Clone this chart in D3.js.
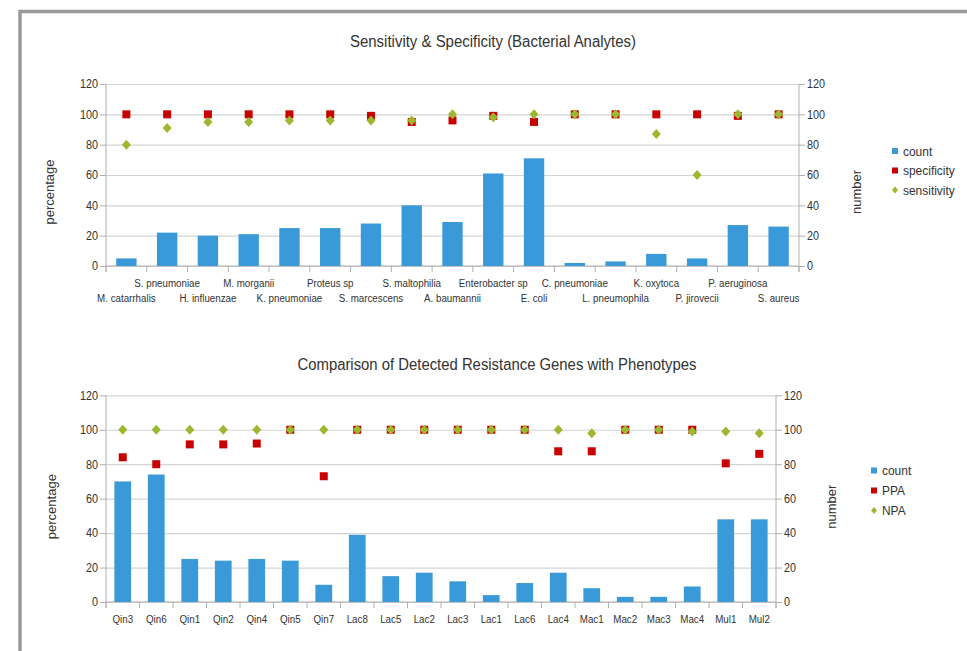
<!DOCTYPE html>
<html>
<head>
<meta charset="utf-8">
<script src="https://cdn.jsdelivr.net/npm/d3@7"></script>
<style>
  html, body { margin: 0; padding: 0; background: #fff; }
  svg { display: block; }
  text { font-family: 'Liberation Sans', Arial, sans-serif; fill: #333; }
</style>
</head>
<body>
<svg id="chart" width="967" height="651"></svg>
<script>
// ---------- Data ----------
const bactCategories = ["M. catarrhalis", "S. pneumoniae", "H. influenzae", "M. morganii", "K. pneumoniae",
  "Proteus sp", "S. marcescens", "S. maltophilia", "A. baumannii", "Enterobacter sp", "E. coli",
  "C. pneumoniae", "L. pneumophila", "K. oxytoca", "P. jirovecii", "P. aeruginosa", "S. aureus"];
const bactCount = [5, 22, 20, 21, 25, 25, 28, 40, 29, 61, 71, 2, 3, 8, 5, 27, 26];
const bactSpecificity = [100, 100, 100, 100, 100, 100, 99, 95, 96, 99, 95, 100, 100, 100, 100, 99, 100];
const bactSensitivity = [80, 91, 95, 95, 96, 96, 96, 96, 100, 98, 100, 100, 100, 87, 60, 100, 100];

const geneCategories = ["Qin3", "Qin6", "Qin1", "Qin2", "Qin4", "Qin5", "Qin7", "Lac8", "Lac5", "Lac2",
  "Lac3", "Lac1", "Lac6", "Lac4", "Mac1", "Mac2", "Mac3", "Mac4", "Mul1", "Mul2"];
const geneCount = [70, 74, 25, 24, 25, 24, 10, 39, 15, 17, 12, 4, 11, 17, 8, 3, 3, 9, 48, 48];
const genePPA = [84, 80, 91.5, 91.5, 92, 100, 73, 100, 100, 100, 100, 100, 100, 87.5, 87.5, 100, 100, 100, 80.5, 86];
const geneNPA = [100, 100, 100, 100, 100, 100, 100, 100, 100, 100, 100, 100, 100, 100, 98, 100, 100, 99, 99, 98];

const yTickValues = [0, 20, 40, 60, 80, 100, 120];

// ---------- Styles ----------
const BAR = "#3a9ad9";
const RED = "#c80000";
const GREEN = "#9bb82e";
const GRID = "#d4d4d4";
const AXIS = "#b0b0b0";

const svg = d3.select("#chart");

// frame
svg.append("path")
  .attr("d", "M20,700 L20,11.5 L1000,11.5")
  .attr("fill", "none").attr("stroke", "#999").attr("stroke-width", 3.5);

function drawChart(cfg) {
  const g = svg.append("g");
  const x = d3.scaleBand().domain(cfg.categories).range([cfg.left, cfg.right]).padding(0);
  const y = d3.scaleLinear().domain([0, 120]).range([cfg.bottom, cfg.top]);
  const yR = d3.scaleLinear().domain([0, 120]).range([cfg.bottom, cfg.top]);

  // title
  g.append("text").attr("x", cfg.titleX).attr("y", cfg.titleY)
    .attr("text-anchor", "middle").attr("font-size", 16)
    .attr("textLength", cfg.titleLen).attr("lengthAdjust", "spacingAndGlyphs")
    .text(cfg.title);

  // gridlines
  const grid = g.append("g").attr("transform", `translate(${cfg.left},0)`)
    .call(d3.axisLeft(y).tickValues(yTickValues).tickSize(-(cfg.right - cfg.left)).tickFormat(""));
  grid.select(".domain").remove();
  grid.selectAll("line").attr("stroke", GRID).attr("stroke-width", 1.2);

  // left axis
  const la = g.append("g").attr("transform", `translate(${cfg.left},0)`)
    .call(d3.axisLeft(y).tickValues(yTickValues).tickSize(6).tickSizeOuter(0).tickPadding(3));
  la.select(".domain").attr("stroke", AXIS).attr("d", `M0,${cfg.top}V${cfg.bottom + 6}`);
  la.selectAll("line").attr("stroke", AXIS);
  la.selectAll("text").attr("font-size", 12).attr("fill", "#333")
    .attr("font-family", "'Liberation Sans', Arial, sans-serif")
    .attr("transform", "scale(0.9,1)");

  // right axis
  const ra = g.append("g").attr("transform", `translate(${cfg.right},0)`)
    .call(d3.axisRight(yR).tickValues(yTickValues).tickSize(6).tickSizeOuter(0).tickPadding(3));
  ra.select(".domain").attr("stroke", AXIS).attr("d", `M0,${cfg.top}V${cfg.bottom + 6}`);
  ra.selectAll("line").attr("stroke", AXIS);
  ra.selectAll("text").attr("font-size", 12).attr("fill", "#333")
    .attr("font-family", "'Liberation Sans', Arial, sans-serif")
    .attr("transform", "scale(0.9,1)");

  // x axis baseline and boundary ticks
  g.append("line").attr("x1", cfg.left).attr("x2", cfg.right)
    .attr("y1", y(0)).attr("y2", y(0)).attr("stroke", AXIS).attr("stroke-width", 1.2);
  const bounds = cfg.categories.map(c => x(c)).concat([cfg.right]);
  g.selectAll(".xtick").data(bounds).enter().append("line")
    .attr("x1", d => d).attr("x2", d => d)
    .attr("y1", y(0)).attr("y2", y(0) + 6).attr("stroke", AXIS);

  // x labels
  const xa = g.append("g").attr("transform", `translate(0,${cfg.bottom})`)
    .call(d3.axisBottom(x).tickSize(0).tickPadding(0));
  xa.select(".domain").remove();
  xa.selectAll("text").attr("font-size", 11.5).attr("fill", "#333")
    .attr("font-family", "'Liberation Sans', Arial, sans-serif")
    .attr("dy", null)
    .attr("transform", "scale(0.85,1)")
    .attr("y", (d, i) => cfg.stagger ? (i % 2 === 1 ? cfg.labelY1 : cfg.labelY2) : cfg.labelY1);

  // bars
  const bw = x.bandwidth() * 0.5;
  g.selectAll(".bar").data(cfg.count).enter().append("rect")
    .attr("x", (d, i) => x(cfg.categories[i]) + x.bandwidth() / 2 - bw / 2)
    .attr("width", bw)
    .attr("y", d => yR(d))
    .attr("height", d => yR(0) - yR(d))
    .attr("fill", BAR);

  // red squares
  const sq = 8;
  g.selectAll(".sq").data(cfg.s1).enter().append("rect")
    .attr("x", (d, i) => x(cfg.categories[i]) + x.bandwidth() / 2 - sq / 2)
    .attr("y", d => y(d) - sq / 2)
    .attr("width", sq).attr("height", sq).attr("fill", RED);

  // green diamonds
  g.selectAll(".dm").data(cfg.s2).enter().append("path")
    .attr("d", "M0,-5L4.5,0L0,5L-4.5,0Z")
    .attr("transform", (d, i) => `translate(${x(cfg.categories[i]) + x.bandwidth() / 2},${y(d)})`)
    .attr("fill", GREEN);

  // axis titles
  const midY = (cfg.top + cfg.bottom) / 2 + cfg.titleOffset;
  g.append("text").attr("transform", `translate(${cfg.leftTitleX},${midY}) rotate(-90)`)
    .attr("text-anchor", "middle").attr("font-size", 13).text("percentage");
  g.append("text").attr("transform", `translate(${cfg.rightTitleX},${midY}) rotate(-90)`)
    .attr("text-anchor", "middle").attr("font-size", 13).text("number");

  // legend
  const lg = g.append("g").attr("transform", `translate(${cfg.legendX},${cfg.legendY})`);
  cfg.legend.forEach((name, i) => {
    const row = lg.append("g").attr("transform", `translate(0,${i * cfg.legendStep})`);
    if (i === 0) row.append("rect").attr("x", -3).attr("y", -3).attr("width", 6).attr("height", 6).attr("fill", BAR);
    else if (i === 1) row.append("rect").attr("x", -3).attr("y", -3).attr("width", 6).attr("height", 6).attr("fill", RED);
    else row.append("path").attr("d", "M0,-3.5L3,0L0,3.5L-3,0Z").attr("fill", GREEN);
    row.append("text").attr("x", 8).attr("y", 0).attr("dy", "0.35em")
      .attr("font-size", 13).attr("transform", "translate(8,0) scale(0.92,1) translate(-8,0)").text(name);
  });
}

drawChart({
  categories: bactCategories, count: bactCount, s1: bactSpecificity, s2: bactSensitivity,
  left: 106, right: 799, top: 84, bottom: 266,
  title: "Sensitivity & Specificity (Bacterial Analytes)", titleX: 493, titleY: 47, titleLen: 286,
  stagger: true, labelY1: 21, labelY2: 36,
  leftTitleX: 54, rightTitleX: 861, titleOffset: 17,
  legend: ["count", "specificity", "sensitivity"], legendX: 895, legendY: 151, legendStep: 19.5
});

drawChart({
  categories: geneCategories, count: geneCount, s1: genePPA, s2: geneNPA,
  left: 106, right: 776, top: 395.3, bottom: 602,
  title: "Comparison of Detected Resistance Genes with Phenotypes", titleX: 497, titleY: 370, titleLen: 399,
  stagger: false, labelY1: 21, labelY2: 21,
  leftTitleX: 56, rightTitleX: 836, titleOffset: 8,
  legend: ["count", "PPA", "NPA"], legendX: 874, legendY: 470.5, legendStep: 20
});
</script>
</body>
</html>
